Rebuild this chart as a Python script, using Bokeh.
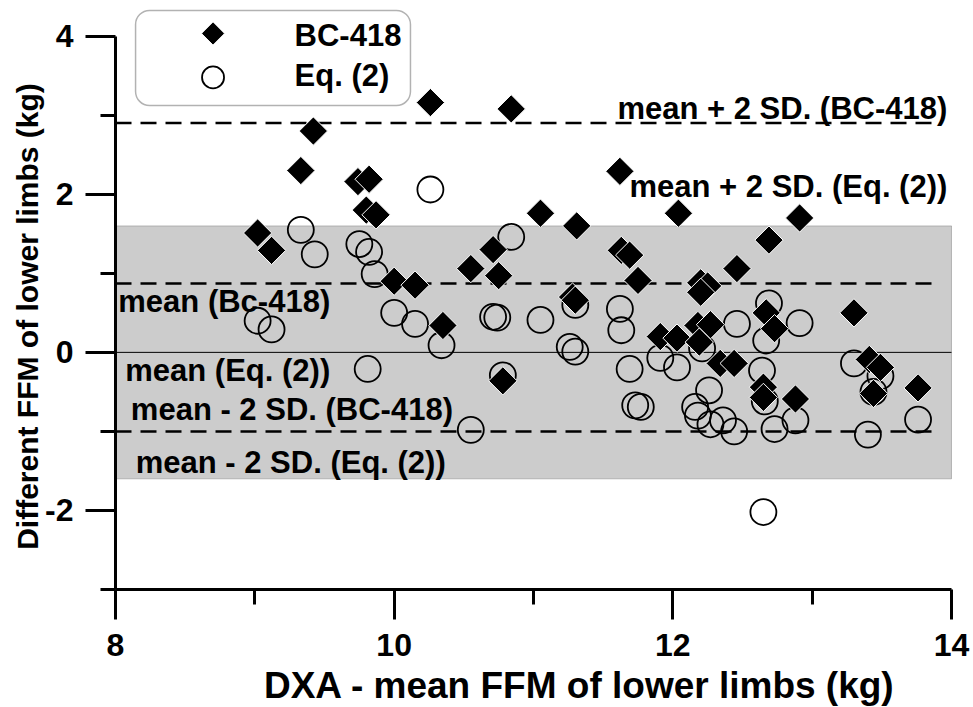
import numpy as np
from bokeh.plotting import figure
from bokeh.models import FixedTicker, BoxAnnotation, Label, Range1d
from bokeh.embed import file_html
from bokeh.resources import INLINE

# ---------------- data ----------------
bc_x = [9.02, 9.12, 9.33, 9.42, 9.74, 9.82, 9.80, 9.87, 10.00, 10.15,
        10.26, 10.35, 10.55, 10.71, 10.75, 10.78, 10.84, 11.05, 11.28, 11.30,
        11.31, 11.62, 11.63, 11.69, 11.75, 11.91, 12.03, 12.04, 12.18, 12.27,
        12.19, 12.20, 12.25, 12.20, 12.34, 12.44, 12.46, 12.69, 12.67, 12.73,
        12.65, 12.65, 12.88, 12.91, 13.30, 13.41, 13.49, 13.44, 13.76]
bc_y = [1.51, 1.29, 2.30, 2.80, 2.16, 2.19, 1.80, 1.74, 0.90, 0.85,
        3.16, 0.34, 1.06, 1.30, 0.97, -0.36, 3.08, 1.76, 0.70, 0.66,
        1.60, 2.29, 1.29, 1.23, 0.91, 0.20, 0.18, 1.76, 0.34, 0.35,
        0.13, 0.88, 0.84, 0.76, -0.14, -0.14, 1.06, 1.42, 0.50, 0.30,
        -0.44, -0.57, -0.59, 1.70, 0.50, -0.09, -0.19, -0.52, -0.45]

eq_x = [9.02, 9.12, 9.33, 9.43, 9.75, 9.82, 9.86, 9.81, 10.00, 10.15,
        10.26, 10.34, 10.55, 10.71, 10.74, 10.78, 10.84, 11.05, 11.26, 11.30,
        11.30, 11.62, 11.63, 11.69, 11.73, 11.77, 11.91, 12.03, 12.21, 12.26,
        12.16, 12.18, 12.27, 12.36, 12.44, 12.46, 12.69, 12.67, 12.64, 12.66,
        12.73, 12.91, 12.88, 12.65, 13.30, 13.49, 13.44, 13.40, 13.76]
eq_y = [0.40, 0.29, 1.55, 1.24, 1.37, 1.27, 0.99, -0.21, 0.50, 0.36,
        2.06, 0.09, -0.98, 0.45, 0.44, -0.29, 1.46, 0.41, 0.07, 0.01,
        0.60, 0.55, 0.28, -0.21, -0.67, -0.69, -0.07, -0.19, 0.05, -0.48,
        -0.69, -0.80, -0.91, -0.86, -1.00, 0.36, 0.62, 0.15, -0.23, -0.62,
        -0.97, 0.37, -0.86, -2.02, -0.14, -0.30, -0.50, -1.04, -0.85]

bc_lines = [2.90, 0.87, -1.00]          # mean + 2SD, mean, mean - 2SD (BC-418)
eq_mean = 0.0                           # mean (Eq. (2))
eq_band = [-1.60, 1.60]                 # mean -/+ 2SD (Eq. (2))

x_major = [8, 10, 12, 14]
x_minor = [9, 11, 13]
y_major = [-2, 0, 2, 4]
y_minor = [-3, -1, 1, 3]
y_tick_text = {-2: "-2", 0: "0", 2: "2", 4: "4"}

x_title = "DXA - mean FFM of lower limbs (kg)"
y_title = "Different FFM of lower limbs (kg)"
series_labels = ["BC-418", "Eq. (2)"]
line_labels = ["mean + 2 SD. (BC-418)", "mean + 2 SD. (Eq. (2))", "mean (Bc-418)",
               "mean (Eq. (2))", "mean - 2 SD. (BC-418)", "mean - 2 SD. (Eq. (2))"]

FONT = "Liberation Sans"

# ---------------- figure ----------------
# the frame covers the whole canvas; the axes sit at fixed positions inside it
p = figure(width=973, height=707, x_range=Range1d(7.1746, 14.1579),
           y_range=Range1d(-4.4927, 4.4512),
           output_backend="svg", toolbar_location=None,
           min_border_left=0, min_border_right=0, min_border_top=0, min_border_bottom=0)
p.outline_line_color = None
p.grid.visible = False
p.background_fill_color = "white"
p.border_fill_color = "white"

for ax, major, minor in ((p.xaxis[0], x_major, x_minor), (p.yaxis[0], y_major, y_minor)):
    ax.ticker = FixedTicker(ticks=major, minor_ticks=minor)
    ax.axis_line_width = 3
    ax.major_tick_line_width = 3
    ax.minor_tick_line_width = 3
    ax.major_tick_out = 30
    ax.major_tick_in = 0
    ax.minor_tick_out = 15
    ax.minor_tick_in = 0
    ax.major_label_text_font = FONT
    ax.major_label_text_font_style = "bold"
    ax.major_label_text_font_size = "32px"
    ax.major_label_text_color = "black"

p.xaxis.major_label_standoff = 14
p.yaxis.major_label_standoff = 12
p.yaxis.major_label_overrides = y_tick_text
p.xaxis.bounds = (x_major[0], x_major[-1])
p.yaxis.bounds = (y_minor[0], y_major[-1])
p.xaxis.fixed_location = y_minor[0]
p.yaxis.fixed_location = x_major[0]

# text helper (baseline correction: the renderer places "alphabetic" about 10px low)
def lab(x, y, text, align, size=31, angle=0.0, baseline="alphabetic", shift=True):
    dy = 0.33 * size / 79.05 if shift else 0.0
    p.add_layout(Label(x=x, y=y + dy, text=text, text_align=align, text_baseline=baseline,
                       angle=angle, text_font=FONT, text_font_style="bold",
                       text_font_size=f"{size}px", text_color="black"))

# gray band: Eq.(2) mean +/- 2SD
band = BoxAnnotation(left=x_major[0], right=x_major[-1], bottom=eq_band[0], top=eq_band[1],
                     fill_color="#cccccc", fill_alpha=1, line_color="#444444", line_width=1,
                     level="underlay")
p.add_layout(band)

# legend box (rounded), drawn under the glyphs
box_kw = dict(left=8.144, right=10.117, top=4.325, bottom=3.123,
              fill_color="white", fill_alpha=1, line_color="black", line_width=1.5,
              level="underlay")
if "border_radius" in BoxAnnotation.properties():
    box_kw["border_radius"] = 14
p.add_layout(BoxAnnotation(**box_kw))

# mean Eq.(2) solid line
p.segment(x0=[x_major[0]], x1=[x_major[-1]], y0=[eq_mean], y1=[eq_mean],
          line_color="black", line_width=1)

# BC-418 dashed lines
p.segment(x0=[x_major[0]] * 3, x1=[13.92] * 3, y0=bc_lines, y1=bc_lines,
          line_color="black", line_width=2.5, line_dash="16 9")

p.scatter(eq_x, eq_y, marker="circle", size=26, fill_color=None,
          line_color="black", line_width=1.8)
p.scatter(bc_x, bc_y, marker="square", angle=np.pi / 4, size=20,
          fill_color="black", line_color="white", line_width=1)

# axis titles
lab(11.33, -4.366, x_title, "center", size=37)
lab(7.37, 0.454, y_title, "center", size=30, angle=np.pi / 2, baseline="middle", shift=False)

# reference-line annotations
lab(13.97, 2.95, line_labels[0], "right")
lab(13.97, 1.97, line_labels[1], "right")
lab(8.02, 0.51, line_labels[2], "left")
lab(8.07, -0.355, line_labels[3], "left")
lab(8.11, -0.85, line_labels[4], "left")
lab(8.145, -1.52, line_labels[5], "left")

# legend samples and labels
legend_sample_x = 8.70
legend_sample_y = [4.034, 3.478]
legend_text_x = 9.285
legend_text_y = [3.882, 3.376]
p.scatter([legend_sample_x], [legend_sample_y[0]], marker="square", angle=np.pi / 4, size=15,
          fill_color="black", line_color="black", line_width=1)
p.scatter([legend_sample_x], [legend_sample_y[1]], marker="circle", size=22, fill_color=None,
          line_color="black", line_width=1.8)
lab(legend_text_x, legend_text_y[0], series_labels[0], "left")
lab(legend_text_x, legend_text_y[1], series_labels[1], "left")

open("out.html", "w").write(file_html(p, INLINE))
